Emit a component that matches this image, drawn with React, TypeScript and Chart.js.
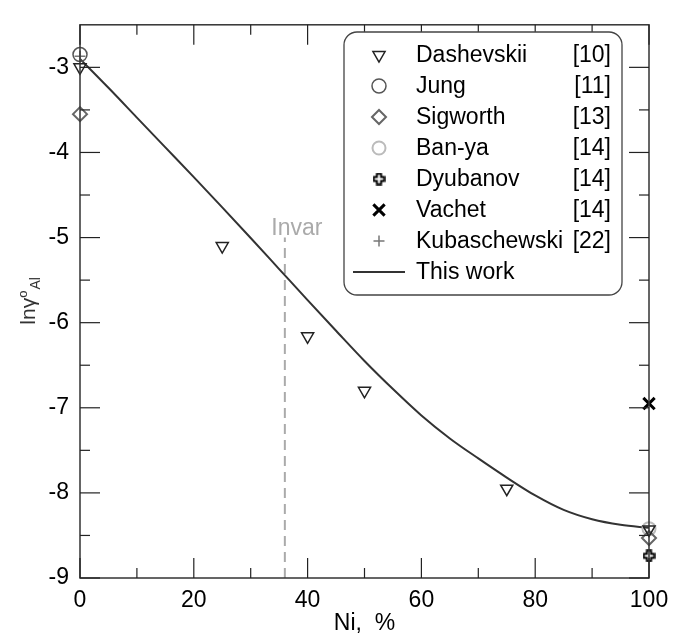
import React, { useEffect, useRef } from 'react';
import { Chart, registerables } from 'chart.js';
import { drawPoint } from 'chart.js/helpers';

Chart.register(...registerables);

const FONT = '"Liberation Sans", Arial, Helvetica, sans-serif';

// Axis ticks
const xMajorTicks = [0, 20, 40, 60, 80, 100];
const xMinorTicks = [10, 30, 50, 70, 90];
const yMajorTicks = [-9, -8, -7, -6, -5, -4, -3];
const yMinorTicks = [-8.5, -7.5, -6.5, -5.5, -4.5, -3.5];

// Series data (Ni, % ; ln gamma)
const dashevskiiX = [0, 25, 40, 50, 75, 100];
const dashevskiiY = [-3.0, -5.1, -6.16, -6.8, -7.95, -8.43];
const jungX = [0];
const jungY = [-2.85];
const sigworthX = [0, 100];
const sigworthY = [-3.55, -8.53];
const banyaX = [100];
const banyaY = [-8.42];
const dyubanovX = [100];
const dyubanovY = [-8.74];
const vachetX = [100];
const vachetY = [-6.95];
const kubaschewskiX = [0];
const kubaschewskiY = [-2.87];
const thisWorkX = [0, 5, 10, 15, 20, 25, 30, 35, 40, 45, 50, 55, 60, 65, 70, 75, 80, 85, 90, 95, 100];
const thisWorkY = [-2.9, -3.24, -3.59, -3.94, -4.29, -4.645, -5.005, -5.37, -5.735, -6.095, -6.45, -6.78, -7.09, -7.36, -7.595, -7.82, -8.03, -8.2, -8.31, -8.375, -8.41];

const invarX = [36, 36];
const invarY = [-9, -5.0];
const invarLabel = 'Invar';

const seriesNames = ['Dashevskii', 'Jung', 'Sigworth', 'Ban-ya', 'Dyubanov', 'Vachet', 'Kubaschewski', 'This work'];
const seriesRefs = ['[10]', '[11]', '[13]', '[14]', '[14]', '[14]', '[22]', ''];

const xTitle = 'Ni,  %';

const zip = (xs: number[], ys: number[]) => xs.map((x, i) => ({ x, y: ys[i] }));

function makePlusImage() {
  const c = document.createElement('canvas');
  c.width = 13;
  c.height = 13;
  const g = c.getContext('2d')!;
  const a = 2.1, L = 5.2, cx = 6.5, cy = 6.5;
  const pts = [
    [cx - a, cy - L], [cx + a, cy - L], [cx + a, cy - a], [cx + L, cy - a],
    [cx + L, cy + a], [cx + a, cy + a], [cx + a, cy + L], [cx - a, cy + L],
    [cx - a, cy + a], [cx - L, cy + a], [cx - L, cy - a], [cx - a, cy - a],
  ];
  g.beginPath();
  pts.forEach(([px, py], i) => (i === 0 ? g.moveTo(px, py) : g.lineTo(px, py)));
  g.closePath();
  g.fillStyle = '#fff';
  g.fill();
  g.lineWidth = 2;
  g.strokeStyle = '#000';
  g.stroke();
  return c;
}

function roundRectPath(ctx: CanvasRenderingContext2D, x: number, y: number, w: number, h: number, r: number) {
  ctx.beginPath();
  ctx.moveTo(x + r, y);
  ctx.lineTo(x + w - r, y);
  ctx.arcTo(x + w, y, x + w, y + r, r);
  ctx.lineTo(x + w, y + h - r);
  ctx.arcTo(x + w, y + h, x + w - r, y + h, r);
  ctx.lineTo(x + r, y + h);
  ctx.arcTo(x, y + h, x, y + h - r, r);
  ctx.lineTo(x, y + r);
  ctx.arcTo(x, y, x + r, y, r);
  ctx.closePath();
}

export default function App() {
  const ref = useRef<HTMLCanvasElement | null>(null);

  useEffect(() => {
    if (!ref.current) return;
    const plusImg = makePlusImage();

    const pointBase = { showLine: false, clip: false as any, backgroundColor: 'rgba(0,0,0,0)' };
    const datasets: any[] = [
      { ...pointBase, label: seriesNames[0], data: zip(dashevskiiX, dashevskiiY), pointStyle: 'triangle', rotation: 180, pointRadius: 7, borderColor: '#222', borderWidth: 1.5 },
      { ...pointBase, label: seriesNames[1], data: zip(jungX, jungY), pointStyle: 'circle', pointRadius: 7, borderColor: '#555', borderWidth: 1.5 },
      { ...pointBase, label: seriesNames[2], data: zip(sigworthX, sigworthY), pointStyle: 'rectRot', pointRadius: 7, borderColor: '#666', borderWidth: 2 },
      { ...pointBase, label: seriesNames[3], data: zip(banyaX, banyaY), pointStyle: 'circle', pointRadius: 6.5, borderColor: '#bbb', borderWidth: 2 },
      { ...pointBase, label: seriesNames[4], data: zip(dyubanovX, dyubanovY), pointStyle: plusImg, pointRadius: 6, borderColor: '#000', borderWidth: 2 },
      { ...pointBase, label: seriesNames[5], data: zip(vachetX, vachetY), pointStyle: 'crossRot', pointRadius: 8, borderColor: '#000', borderWidth: 3 },
      { ...pointBase, label: seriesNames[6], data: zip(kubaschewskiX, kubaschewskiY), pointStyle: 'cross', pointRadius: 5.5, borderColor: '#777', borderWidth: 1.5 },
      { label: seriesNames[7], data: zip(thisWorkX, thisWorkY), showLine: true, pointRadius: 0, borderColor: '#333', borderWidth: 2, cubicInterpolationMode: 'monotone', backgroundColor: 'rgba(0,0,0,0)' },
      { label: invarLabel, data: zip(invarX, invarY), showLine: true, pointRadius: 0, borderColor: '#aaa', borderWidth: 2, borderDash: [10, 6], backgroundColor: 'rgba(0,0,0,0)' },
    ];

    const decor = {
      id: 'decor',
      afterDatasetsDraw(chart: any) {
        const ctx: CanvasRenderingContext2D = chart.ctx;
        const { left, right, top, bottom } = chart.chartArea;
        const xs = chart.scales.x;
        const ys = chart.scales.y;
        ctx.save();
        // frame
        ctx.strokeStyle = '#333';
        ctx.lineWidth = 1.5;
        ctx.strokeRect(left, top, right - left, bottom - top);
        // inward ticks
        ctx.lineWidth = 1.2;
        ctx.strokeStyle = '#222';
        const tick = (x1: number, y1: number, x2: number, y2: number) => {
          ctx.beginPath();
          ctx.moveTo(x1, y1);
          ctx.lineTo(x2, y2);
          ctx.stroke();
        };
        xMajorTicks.forEach((v) => {
          const p = xs.getPixelForValue(v);
          tick(p, bottom, p, bottom - 20);
          tick(p, top, p, top + 20);
        });
        xMinorTicks.forEach((v) => {
          const p = xs.getPixelForValue(v);
          tick(p, bottom, p, bottom - 10);
          tick(p, top, p, top + 10);
        });
        yMajorTicks.forEach((v) => {
          const p = ys.getPixelForValue(v);
          tick(left, p, left + 20, p);
          tick(right, p, right - 20, p);
        });
        yMinorTicks.forEach((v) => {
          const p = ys.getPixelForValue(v);
          tick(left, p, left + 10, p);
          tick(right, p, right - 10, p);
        });

        // Invar label
        ctx.fillStyle = '#aaa';
        ctx.font = `23px ${FONT}`;
        ctx.textAlign = 'center';
        ctx.textBaseline = 'alphabetic';
        ctx.fillText(invarLabel, xs.getPixelForValue(invarX[0]) + 12, ys.getPixelForValue(invarY[1]) - 3);

        // Y axis title: ln γ°_Al
        const midY = (top + bottom) / 2;
        ctx.fillStyle = '#333';
        ctx.font = `21px ${FONT}`;
        const w1 = ctx.measureText('lnγ').width;
        ctx.font = `13px ${FONT}`;
        const w2 = ctx.measureText('o').width;
        ctx.font = `14px ${FONT}`;
        const w3 = ctx.measureText('Al').width;
        const total = w1 + w2 + w3;
        ctx.save();
        ctx.translate(35, midY + total / 2);
        ctx.rotate(-Math.PI / 2);
        ctx.textAlign = 'left';
        ctx.font = `21px ${FONT}`;
        ctx.fillText('lnγ', 0, 0);
        ctx.font = `13px ${FONT}`;
        ctx.fillText('o', w1, -8);
        ctx.font = `14px ${FONT}`;
        ctx.fillText('Al', w1 + w2 + 1, 5);
        ctx.restore();

        // Legend
        const lx = 344, ly = 32, lw = 278, lh = 263;
        roundRectPath(ctx, lx, ly, lw, lh, 13);
        ctx.fillStyle = '#fff';
        ctx.fill();
        ctx.strokeStyle = '#444';
        ctx.lineWidth = 1.3;
        ctx.stroke();
        const symX = 379, textX = 416, refR = 611, row0 = 55, step = 31;
        ctx.font = `23px ${FONT}`;
        ctx.textBaseline = 'middle';
        seriesNames.forEach((name, i) => {
          const y = row0 + i * step;
          const ds = datasets[i];
          if (i < 7) {
            ctx.save();
            ctx.strokeStyle = ds.borderColor;
            ctx.fillStyle = 'rgba(0,0,0,0)';
            ctx.lineWidth = ds.borderWidth;
            drawPoint(ctx, { pointStyle: ds.pointStyle, rotation: ds.rotation || 0, radius: ds.pointRadius, borderWidth: ds.borderWidth } as any, symX, y);
            ctx.restore();
          } else {
            ctx.strokeStyle = ds.borderColor;
            ctx.lineWidth = ds.borderWidth;
            tick(353, y, 405, y);
          }
          ctx.fillStyle = '#000';
          ctx.textAlign = 'left';
          ctx.fillText(name, textX, y + 1);
          if (seriesRefs[i]) {
            ctx.textAlign = 'right';
            ctx.fillText(seriesRefs[i], refR, y + 1);
          }
        });
        ctx.restore();
      },
    };

    const chart = new Chart(ref.current, {
      type: 'scatter',
      data: { datasets },
      options: {
        responsive: false,
        animation: false,
        devicePixelRatio: 1,
        layout: { padding: { left: 0, top: 9, right: 34, bottom: 0 } },
        plugins: { legend: { display: false }, tooltip: { enabled: false } },
        scales: {
          x: {
            type: 'linear',
            min: 0,
            max: 100,
            afterBuildTicks: (s: any) => { s.ticks = xMajorTicks.map((v) => ({ value: v })); },
            afterFit: (s: any) => { s.height = 61; },
            grid: { display: false, drawTicks: false },
            border: { display: false },
            ticks: { color: '#000', font: { family: FONT, size: 23 }, padding: 9, maxRotation: 0 },
            title: { display: true, text: xTitle, color: '#000', font: { family: FONT, size: 23 }, padding: { top: 0, bottom: 2 } },
          },
          y: {
            type: 'linear',
            min: -9,
            max: -2.5,
            afterBuildTicks: (s: any) => { s.ticks = yMajorTicks.map((v) => ({ value: v })); },
            afterFit: (s: any) => { s.width = 80; },
            grid: { display: false, drawTicks: false },
            border: { display: false },
            ticks: { color: '#000', font: { family: FONT, size: 23 }, padding: 11 },
          },
        },
      } as any,
      plugins: [decor],
    });
    return () => chart.destroy();
  }, []);

  return (
    <div style={{ position: 'absolute', left: 0, top: 0, width: 683, height: 639, background: '#fff' }}>
      <canvas ref={ref} width={683} height={639} style={{ display: 'block' }} />
    </div>
  );
}
